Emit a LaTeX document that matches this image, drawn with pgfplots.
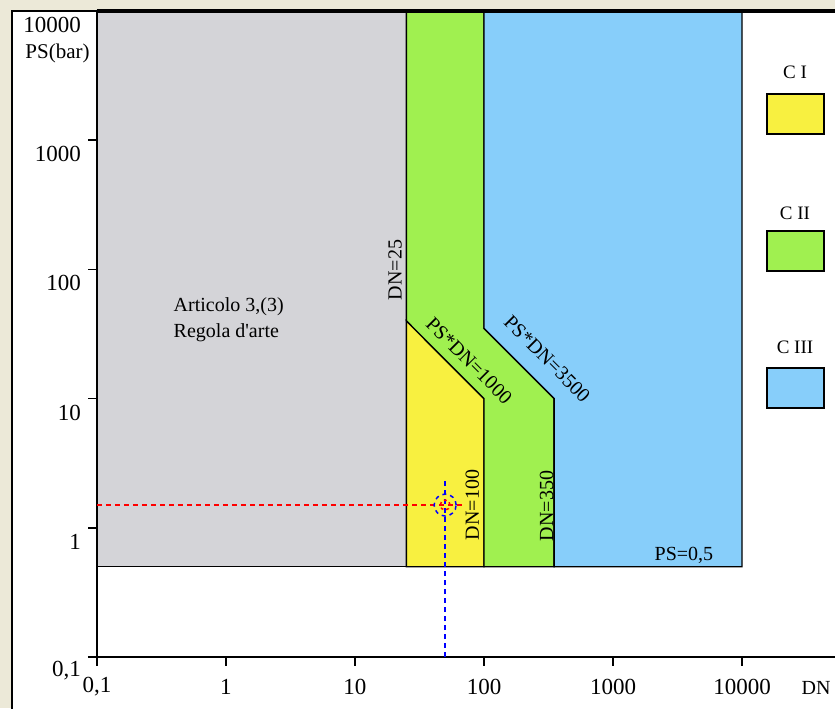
\documentclass[border=0pt]{standalone}
\usepackage{fontspec}
\setmainfont{Liberation Serif}
\usepackage{pgfplots}
\pgfplotsset{compat=1.18}
\definecolor{bgbeige}{HTML}{ECE9D8}
\definecolor{cgrey}{HTML}{D4D4D8}
\definecolor{cyel}{HTML}{F8F040}
\definecolor{cgreen}{HTML}{A0F050}
\definecolor{cblue}{HTML}{87CEFA}
\begin{document}
\begin{tikzpicture}
\fill[bgbeige] (-48.5pt,-25.5pt) rectangle (369pt,328.5pt);
\fill[white] (-42.5pt,-25.5pt) rectangle (369pt,323pt);
\draw[line width=0.8pt] (-42.5pt,-26pt) -- (-42.5pt,323pt) -- (369pt,323pt);
\begin{axis}[
  at={(0,0)}, anchor=south west,
  scale only axis, width=322.5pt, height=323pt,
  xmode=log, ymode=log,
  xmin=0.1, xmax=10000, ymin=0.1, ymax=10000,
  axis line style={draw=none},
  clip=false,
  tick align=outside,
  xtick pos=left, ytick pos=left,
  xminorticks=false, yminorticks=false,
  xtick={0.1,1,10,100,1000,10000},
  xticklabels={{0,1},1,10,100,1000,10000},
  ytick={0.1,1,10,100,1000,10000},
  yticklabels={{0,1},1,10,100,1000,10000},
  major tick length=4.5pt,
  every tick/.style={black, line width=0.8pt},
  tick label style={font=\fontsize{11.5}{12}\selectfont},
  xticklabel style={anchor=center, yshift=-10.5pt},
  yticklabel style={anchor=east, yshift=-7pt},
]
% regions
\addplot[fill=cgrey, draw=black, line width=0.7pt] coordinates {(0.1,0.5) (25,0.5) (25,10000) (0.1,10000)} -- cycle;
\addplot[fill=cyel, draw=black, line width=0.7pt] coordinates {(25,0.5) (100,0.5) (100,10) (25,40)} -- cycle;
\addplot[fill=cgreen, draw=black, line width=0.7pt] coordinates {(25,40) (100,10) (100,0.5) (350,0.5) (350,10) (100,35) (100,10000) (25,10000)} -- cycle;
\addplot[fill=cblue, draw=black, line width=0.7pt] coordinates {(100,35) (350,10) (350,0.5) (10000,0.5) (10000,10000) (100,10000)} -- cycle;
% axis lines
\draw[line width=1pt] (rel axis cs:0,0) -- (rel axis cs:0,1);
\draw[line width=1pt] (rel axis cs:-0.014,0) -- (rel axis cs:1.2,0);
\draw[line width=1.6pt] (rel axis cs:0,1) -- (rel axis cs:1.2,1);
% region labels
\node[anchor=west, font=\fontsize{10}{12}\selectfont] at (rel axis cs:0.108,0.5418) {Articolo 3,(3)};
\node[anchor=west, font=\fontsize{10}{12}\selectfont] at (rel axis cs:0.108,0.5015) {Regola d\textquotesingle arte};
\node[rotate=90, font=\fontsize{10}{12}\selectfont] at (rel axis cs:0.462,0.599) {DN=25};
\node[rotate=90, font=\fontsize{10}{12}\selectfont] at (rel axis cs:0.582,0.2353) {DN=100};
\node[rotate=90, font=\fontsize{10}{12}\selectfont] at (rel axis cs:0.697,0.2337) {DN=350};
\node[rotate=-45, font=\fontsize{10}{12}\selectfont] at (rel axis cs:0.577,0.4585) {PS*DN=1000};
\node[rotate=-45, font=\fontsize{10}{12}\selectfont] at (rel axis cs:0.698,0.4615) {PS*DN=3500};
\node[font=\fontsize{10}{12}\selectfont] at (rel axis cs:0.910,0.158) {PS=0,5};
% axis titles
\node[font=\fontsize{10.5}{12}\selectfont] at (rel axis cs:-0.0612,0.934) {PS(bar)};
\node[anchor=west, inner sep=0pt, font=\fontsize{10}{12}\selectfont] at (rel axis cs:1.092,-0.048) {DN};
% reading lines
\addplot[red, line width=0.75pt, dash pattern=on 2.5pt off 2pt] coordinates {(0.1,1.5) (70,1.5)};
\addplot[blue, line width=0.75pt, dash pattern=on 2.5pt off 2pt] coordinates {(50,0.1) (50,2.4)};
\addplot[only marks, mark=o, mark size=5.5pt, mark options={blue, line width=0.75pt, dash pattern=on 2pt off 2pt}] coordinates {(50,1.5)};
\addplot[only marks, mark=o, mark size=2.5pt, mark options={red, line width=0.75pt, dash pattern=on 1.5pt off 1.5pt}] coordinates {(50,1.5)};
% legend
\node[font=\fontsize{9.5}{11}\selectfont] at (rel axis cs:1.0822,0.9056) {C I};
\draw[fill=cyel, line width=1pt] (rel axis cs:1.0388,0.8096) rectangle (rel axis cs:1.1271,0.8715);
\node[font=\fontsize{9.5}{11}\selectfont] at (rel axis cs:1.0822,0.6873) {C II};
\draw[fill=cgreen, line width=1pt] (rel axis cs:1.0388,0.5975) rectangle (rel axis cs:1.1271,0.6594);
\node[font=\fontsize{9.5}{11}\selectfont] at (rel axis cs:1.0822,0.4799) {C III};
\draw[fill=cblue, line width=1pt] (rel axis cs:1.0388,0.3854) rectangle (rel axis cs:1.1271,0.4474);
\end{axis}
\pgfresetboundingbox
\useasboundingbox (-48.5pt,-25.5pt) rectangle (369pt,328.5pt);
\end{tikzpicture}
\end{document}
